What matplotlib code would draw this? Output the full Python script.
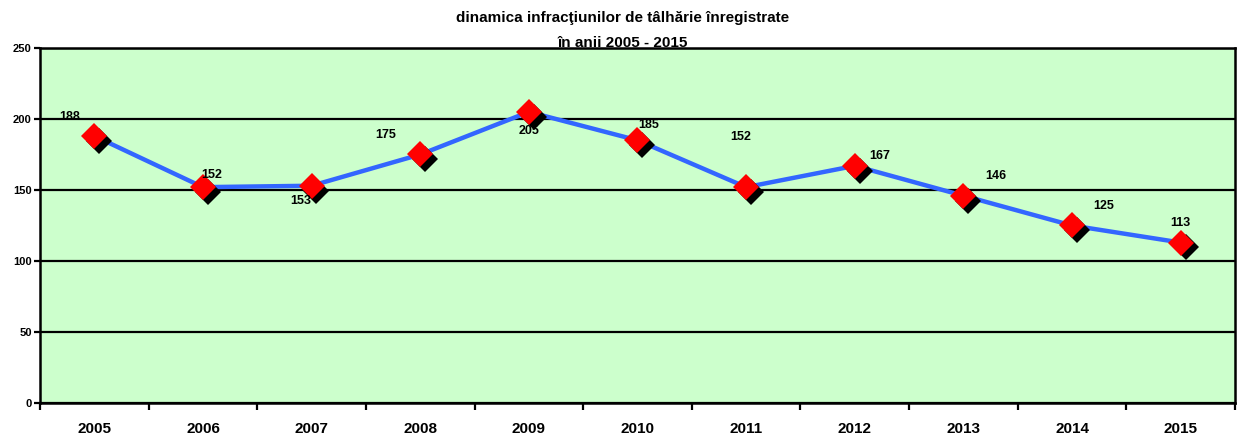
import numpy as np
import matplotlib.pyplot as plt
import matplotlib.transforms as mtransforms

plt.rcParams['font.family'] = ['Liberation Sans', 'DejaVu Sans']
plt.rcParams['font.weight'] = 'bold'

years = ['2005', '2006', '2007', '2008', '2009', '2010', '2011', '2012', '2013', '2014', '2015']
values = [188, 152, 153, 175, 205, 185, 152, 167, 146, 125, 113]
# manual label offsets (points), as placed in the original
label_dx = [-18, 6, -8, -25, 0, 8, -4, 18, 23, 23, 0]
label_dy = [14, 9, -11, 14, -14, 11, 36, 7, 14, 14, 14]

fig = plt.figure(figsize=(12.45, 4.41), dpi=100)
ax = fig.add_axes([40/1245, 38/441, 1195/1245, 355/441])
ax.set_facecolor('#CCFFCC')

x = np.arange(len(years))
ax.set_xlim(-0.5, len(years) - 0.5)
ax.set_ylim(0, 250)
ax.set_yticks(np.arange(0, 251, 50))
ax.yaxis.grid(True, color='black', lw=1.6)
ax.set_axisbelow(True)

ax.plot(x, values, color='#3366FF', lw=3.2, zorder=3)
shadow = mtransforms.offset_copy(ax.transData, fig=fig, x=3.5, y=-3.5, units='points')
ax.plot(x, values, 'D', color='black', ms=13, mew=0, transform=shadow, zorder=4)
ax.plot(x, values, 'D', color='#FF0000', ms=13, mew=0, zorder=5)

for xi, v, dx, dy in zip(x, values, label_dx, label_dy):
    ax.annotate(str(v), (xi, v), xytext=(dx, dy), textcoords='offset points',
                ha='center', va='center', fontsize=9, fontweight='bold', zorder=6)

ax.set_xticks(np.arange(-0.5, len(years), 1))
ax.set_xticklabels([])
ax.set_xticks(x, minor=True)
ax.set_xticklabels(years, minor=True, fontsize=11, fontweight='bold')
ax.tick_params(axis='x', which='major', direction='out', length=5, width=1.6)
ax.tick_params(axis='x', which='minor', length=0, pad=14)
ax.tick_params(axis='y', direction='out', length=4, width=1.6, labelsize=8, pad=2)
for s in ax.spines.values():
    s.set_linewidth(1.8)

fig.text(0.5, 1 - 18/441, 'dinamica infracţiunilor de tâlhărie înregistrate', ha='center', va='center',
         fontsize=11, fontweight='bold')
fig.text(0.5, 1 - 43/441, 'în anii 2005 - 2015', ha='center', va='center',
         fontsize=11, fontweight='bold', zorder=0)

fig.savefig('out.png', dpi=100)
